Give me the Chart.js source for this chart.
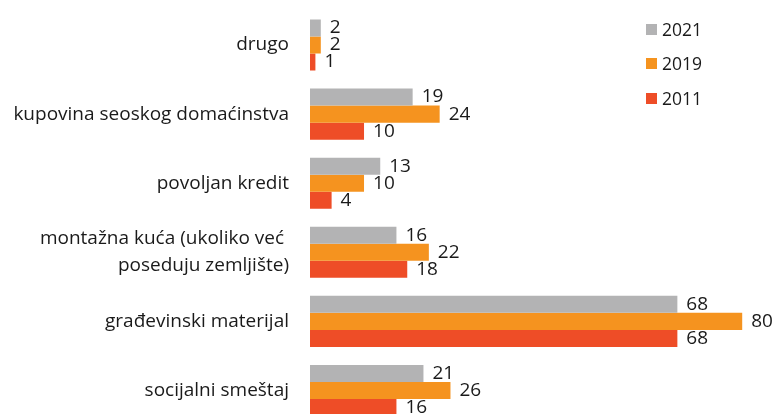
<!DOCTYPE html>
<html>
<head>
<meta charset="utf-8">
<script src="https://cdn.jsdelivr.net/npm/chart.js@4/dist/chart.umd.min.js"></script>
<style>
  html, body { margin: 0; padding: 0; background: #fff; overflow: hidden; }
  #wrap { position: relative; width: 773px; height: 414px; overflow: hidden; }
  #legend { position: absolute; left: 646px; top: 0; font-family: "Open Sans", sans-serif; font-size: 17.5px; color: #1a1a1a; }
  #legend div { position: absolute; left: 0; white-space: nowrap; display: flex; align-items: center; }
  #legend span.box { display: inline-block; width: 11px; height: 11px; margin-right: 5px; }
</style>
</head>
<body>
<div id="wrap">
  <canvas id="chart" width="773" height="425"></canvas>
  <div id="legend"></div>
</div>
<script>
// categories and series
const categories = [
    'drugo',
    'kupovina seoskog domaćinstva',
    'povoljan kredit',
    ['montažna kuća (ukoliko već ', 'poseduju zemljište)'],
    'građevinski materijal',
    'socijalni smeštaj'
];
const seriesNames = ['2021', '2019', '2011'];
const values2021 = [2, 19, 13, 16, 68, 21];
const values2019 = [2, 24, 10, 22, 80, 26];
const values2011 = [1, 10, 4, 18, 68, 16];
const colors = ['#b3b3b4', '#f5931f', '#ee4d27'];

// draws the value to the right of each bar
const valueLabels = {
    id: 'valueLabels',
    afterDatasetsDraw(chart) {
        const ctx = chart.ctx;
        ctx.save();
        ctx.font = '19px "Open Sans", sans-serif';
        ctx.fillStyle = '#1a1a1a';
        ctx.textBaseline = 'middle';
        ctx.textAlign = 'left';
        chart.data.datasets.forEach((ds, i) => {
            chart.getDatasetMeta(i).data.forEach((bar, j) => {
                ctx.fillText(ds.data[j], bar.x + 9, bar.y);
            });
        });
        ctx.restore();
    }
};

const chart = new Chart(document.getElementById('chart'), {
    type: 'bar',
    data: {
        labels: categories,
        datasets: [
            { label: seriesNames[0], data: values2021, backgroundColor: colors[0] },
            { label: seriesNames[1], data: values2019, backgroundColor: colors[1] },
            { label: seriesNames[2], data: values2011, backgroundColor: colors[2] }
        ]
    },
    options: {
        indexAxis: 'y',
        responsive: false,
        animation: false,
        layout: { padding: { top: 10.5, right: 0, bottom: 0, left: 0 } },
        datasets: {
            bar: { categoryPercentage: 0.74, barPercentage: 1.0 }
        },
        scales: {
            x: {
                display: false,
                min: 0,
                max: 85.7
            },
            y: {
                afterFit(scale) {
                    // fixed label column, no extra room for the first/last label
                    scale.width = 310;
                    scale.paddingTop = 0;
                    scale.paddingBottom = 0;
                },
                grid: { display: false, drawTicks: false },
                border: { display: false },
                ticks: {
                    padding: 21,
                    color: '#1a1a1a',
                    font: { family: '"Open Sans", sans-serif', size: 19, lineHeight: 1.4 }
                }
            }
        },
        plugins: {
            legend: { display: false },
            tooltip: { enabled: false }
        }
    },
    plugins: [valueLabels]
});

// legend in the top right corner
const legend = document.getElementById('legend');
const legendY = [29, 63, 98];
seriesNames.forEach((name, i) => {
    const row = document.createElement('div');
    row.style.top = (legendY[i] - 12) + 'px';
    row.style.height = '24px';
    row.innerHTML = '<span class="box" style="background:' + colors[i] + '"></span>' + name;
    legend.appendChild(row);
});
</script>
</body>
</html>
